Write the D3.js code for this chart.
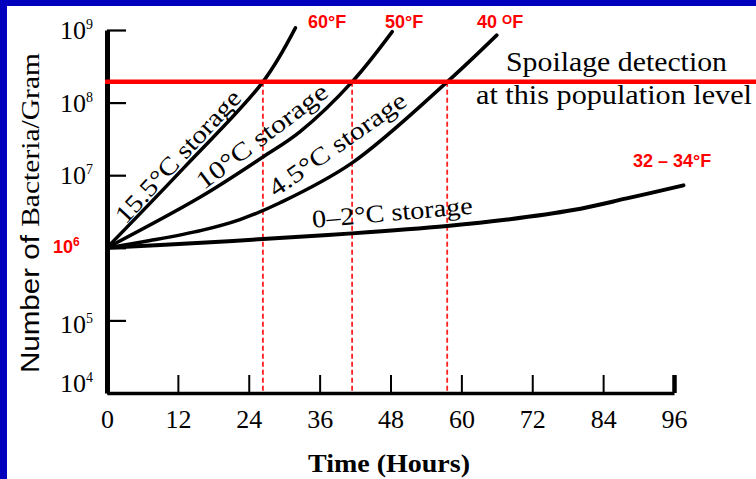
<!DOCTYPE html>
<html>
<head>
<meta charset="utf-8">
<script src="https://cdn.jsdelivr.net/npm/d3@7"></script>
<style>
  html, body { margin: 0; padding: 0; background: #fff; }
  svg { display: block; }
</style>
</head>
<body>
<svg id="chart" width="756" height="479"></svg>
<script>
// ---------- DATA ----------
const xTicks = [0, 12, 24, 36, 48, 60, 72, 84, 96];
const yTicks = [1e4, 1e5, 1e6, 1e7, 1e8, 1e9];
const yTickExp = ["4", "5", "6", "7", "8", "9"];

const hours155 = [0, 13, 26.4, 31.9];
const counts155 = [1e6, 1.26e7, 1.93e8, 1.07e9];

const hours10 = [0, 15.8, 26.4, 32.7, 41.5, 48.3];
const counts10 = [1e6, 5.0e6, 1.78e7, 3.98e7, 1.93e8, 9.5e8];

const hours45 = [0, 7.3, 16, 22.5, 29.3, 41.5, 57.6, 66];
const counts45 = [1e6, 1.26e6, 1.74e6, 2.45e6, 4.17e6, 1.48e7, 1.93e8, 8.5e8];

const hours02 = [0, 16, 26.4, 41.5, 57.6, 67.8, 78.9, 88, 97.6];
const counts02 = [1e6, 1.17e6, 1.32e6, 1.58e6, 2.0e6, 2.45e6, 3.31e6, 4.79e6, 7.24e6];

const spoilageLevel = 1.93e8;
const spoilageHours = [26.4, 41.5, 57.6];

const seriesNames = ["15.5°C storage", "10°C storage", "4.5°C storage", "0–2°C storage"];
const fahrenheitLabels = ["60°F", "50°F", "40 ", "32 – 34°F"];

// ---------- SETUP ----------
const svg = d3.select("#chart");
const W = 756, H = 479;

svg.append("rect").attr("width", W).attr("height", H).attr("fill", "#fff");
svg.append("rect").attr("x", 0).attr("y", 0).attr("width", W).attr("height", 6).attr("fill", "#0000BE");
svg.append("rect").attr("x", 0).attr("y", 0).attr("width", 7).attr("height", H).attr("fill", "#0000BE");

const x = d3.scaleLinear().domain([0, 96]).range([107, 674]);
const y = d3.scaleLog().domain([1e4, 1e9]).range([393, 30]);

const serif = "'Liberation Serif', 'Times New Roman', serif";
const sans = "'Liberation Sans', Arial, sans-serif";

// ---------- AXES ----------
const yAxis = svg.append("g")
  .attr("transform", `translate(${x(0)},0)`)
  .call(d3.axisLeft(y).tickValues(yTicks).tickSize(-19).tickSizeOuter(0).tickFormat(() => ""));
yAxis.select(".domain").attr("stroke", "#000").attr("stroke-width", 5);
yAxis.selectAll(".tick line").attr("stroke", "#000").attr("stroke-width", 2.2);

const xAxis = svg.append("g")
  .attr("transform", `translate(0,${y(1e4)})`)
  .call(d3.axisBottom(x).tickValues(xTicks).tickSize(-18).tickSizeOuter(0).tickFormat(d => d));
xAxis.select(".domain").attr("stroke", "#000").attr("stroke-width", 3.5);
xAxis.selectAll(".tick line").attr("stroke", "#000")
  .attr("stroke-width", d => d === 96 ? 4.5 : 2);
xAxis.selectAll(".tick text")
  .attr("y", 35).attr("dy", 0)
  .attr("fill", "#000")
  .style("font-family", serif).style("font-size", "26px");

// y tick labels
yTicks.forEach((v, i) => {
  if (v === 1e6) {
    const t = svg.append("text")
      .attr("x", 53).attr("y", y(v) + 5)
      .attr("fill", "#FF0000")
      .style("font-family", sans).style("font-weight", "bold").style("font-size", "18px");
    t.append("tspan").text("10");
    t.append("tspan").attr("dy", -7).style("font-size", "12px").text(yTickExp[i]);
  } else {
    const off = v === 1e4 ? -1 : (v === 1e5 ? 13 : 9);
    const t = svg.append("text")
      .attr("x", 60).attr("y", y(v) + off)
      .attr("fill", "#000")
      .style("font-family", serif).style("font-size", "26px");
    t.append("tspan").text("10");
    t.append("tspan").attr("dy", -10).style("font-size", "14px").text(yTickExp[i]);
  }
});

// axis titles
const yTitle = svg.append("text")
  .attr("transform", `translate(39,${(53 + 373) / 2}) rotate(-90)`)
  .attr("text-anchor", "middle")
  .attr("textLength", 320).attr("lengthAdjust", "spacingAndGlyphs")
  .attr("fill", "#000")
  .style("font-size", "25px");
yTitle.append("tspan").style("font-family", sans).text("Number of ");
yTitle.append("tspan").style("font-family", serif).text("Bacteria/Gram");

svg.append("text")
  .attr("x", 389).attr("y", 472)
  .attr("text-anchor", "middle")
  .attr("textLength", 162).attr("lengthAdjust", "spacingAndGlyphs")
  .attr("fill", "#000")
  .style("font-family", serif).style("font-weight", "bold").style("font-size", "26px")
  .text("Time (Hours)");

// ---------- DASHED SPOILAGE TIMES ----------
svg.selectAll("line.drop").data(spoilageHours).enter().append("line")
  .attr("class", "drop")
  .attr("x1", d => x(d)).attr("x2", d => x(d))
  .attr("y1", y(spoilageLevel)).attr("y2", y(1e4) - 2)
  .attr("stroke", "#FF2020").attr("stroke-width", 1.8)
  .attr("stroke-dasharray", "5,3");

// ---------- CURVES ----------
const line = d3.line()
  .x(d => x(d[0])).y(d => y(d[1]))
  .curve(d3.curveCatmullRom.alpha(0.5));

const series = [
  d3.zip(hours155, counts155),
  d3.zip(hours10, counts10),
  d3.zip(hours45, counts45),
  d3.zip(hours02, counts02)
];

svg.selectAll("path.curve").data(series).enter().append("path")
  .attr("class", "curve")
  .attr("d", line)
  .attr("fill", "none")
  .attr("stroke", "#000")
  .attr("stroke-width", (d, i) => i === 3 ? 4 : 3.5)
  .attr("stroke-linecap", "round");

// ---------- SPOILAGE LINE ----------
svg.append("line")
  .attr("x1", x(0) - 2).attr("x2", W)
  .attr("y1", y(spoilageLevel)).attr("y2", y(spoilageLevel))
  .attr("stroke", "#FF0000").attr("stroke-width", 4.5);

svg.append("text")
  .attr("x", 506).attr("y", 71)
  .attr("textLength", 221).attr("lengthAdjust", "spacingAndGlyphs")
  .attr("fill", "#000")
  .style("font-family", serif).style("font-size", "27px")
  .text("Spoilage detection");

svg.append("text")
  .attr("x", 476).attr("y", 104)
  .attr("textLength", 276).attr("lengthAdjust", "spacingAndGlyphs")
  .attr("fill", "#000")
  .style("font-family", serif).style("font-size", "27px")
  .text("at this population level");

// ---------- CURVE LABELS ----------
const labelPos = [
  { h: 12.0, v: 1.82e7, a: -47, len: 172 },
  { h: 26.2, v: 3.47e7, a: -37, len: 158 },
  { h: 39.0, v: 2.69e7, a: -35, len: 162 },
  { h: 48.3, v: 3.09e6, a: -5, len: 161 }
];
labelPos.forEach((p, i) => {
  svg.append("text")
    .attr("transform", `translate(${x(p.h)},${y(p.v)}) rotate(${p.a})`)
    .attr("text-anchor", "middle")
    .attr("dominant-baseline", "central")
    .attr("textLength", p.len).attr("lengthAdjust", "spacingAndGlyphs")
    .attr("fill", "#000")
    .style("font-family", serif).style("font-size", "25px")
    .text(seriesNames[i]);
});

// ---------- FAHRENHEIT LABELS ----------
const redStyle = s => s.attr("fill", "#FF0000")
  .style("font-family", sans).style("font-weight", "bold").style("font-size", "18px");

svg.append("text").attr("x", 308).attr("y", 28).call(redStyle).text(fahrenheitLabels[0]);
svg.append("text").attr("x", 385).attr("y", 28).call(redStyle).text(fahrenheitLabels[1]);
const f40 = svg.append("text").attr("x", 477).attr("y", 28).call(redStyle);
f40.append("tspan").text(fahrenheitLabels[2]);
f40.append("tspan").attr("dy", -4).style("font-size", "13px").text("O");
f40.append("tspan").attr("dy", 4).text("F");
svg.append("text").attr("x", 633).attr("y", 167).call(redStyle).text(fahrenheitLabels[3]);
</script>
</body>
</html>
